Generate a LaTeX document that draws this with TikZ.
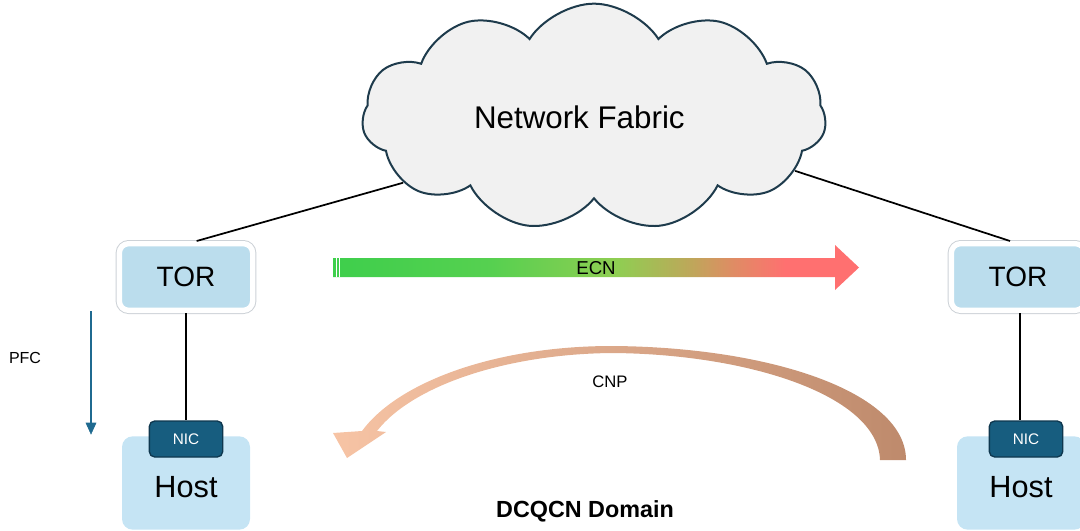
\documentclass[tikz,border=0pt]{standalone}
\usepackage{xcolor}
\usepackage{fontspec}
\setmainfont{Liberation Sans}
\definecolor{Cloud}{RGB}{241,241,241}
\definecolor{CloudLine}{RGB}{30,59,76}
\definecolor{Tor}{RGB}{187,221,237}
\definecolor{HostBlue}{RGB}{197,228,244}
\definecolor{Nic}{RGB}{23,93,127}
\definecolor{NicLine}{RGB}{14,55,78}
\definecolor{Pfc}{RGB}{31,106,144}
\definecolor{Halo}{RGB}{205,210,215}
\definecolor{EcnA}{RGB}{62,207,76}
\definecolor{EcnB}{RGB}{86,208,80}
\definecolor{EcnC}{RGB}{143,206,82}
\definecolor{EcnD}{RGB}{190,167,90}
\definecolor{EcnE}{RGB}{223,140,100}
\definecolor{EcnF}{RGB}{255,112,112}
\definecolor{CnpLeft}{RGB}{247,196,165}
\definecolor{CnpRight}{RGB}{190,138,108}
\usepackage{tikz}
\usetikzlibrary{shapes.symbols}
\pgfdeclarehorizontalshading{ecnshade}{100bp}{color(0bp)=(EcnA); color(25bp)=(EcnA); color(40bp)=(EcnB); color(52bp)=(EcnC); color(59bp)=(EcnD); color(63bp)=(EcnE); color(68bp)=(EcnF); color(100bp)=(EcnF)}

\begin{document}
\begin{tikzpicture}[x=0.75pt, y=-0.75pt,
		torbox/.style={fill=Tor, draw=white, line width=4pt, rounded corners=7pt, minimum width=100pt, minimum height=50pt, font=\fontsize{21}{24}\selectfont, preaction={draw=Halo, line width=5.5pt}},
		hostbox/.style={fill=HostBlue, rounded corners=8pt, minimum width=96pt, minimum height=70pt, text depth=0pt, font=\fontsize{23}{26}\selectfont},
		nicbox/.style={fill=Nic, draw=NicLine, line width=1pt, rounded corners=4pt, minimum width=55pt, minimum height=27pt, text=white, font=\fontsize{11.5}{13}\selectfont},
		link/.style={draw=black, line width=1.3pt}]
		
		\useasboundingbox (0,0) rectangle (1080,531);
		
		% Cloud
		\node[shape=cloud, cloud puffs=11, cloud puff arc=115, aspect=2.1, fill=Cloud, draw=CloudLine, line width=1.5pt, minimum width=348pt, minimum height=170pt, font=\fontsize{23.5}{27}\selectfont] (fabric) at (594,117) {Network Fabric\hspace*{22pt}};
		
		% Boxes
		\node[torbox] (ltor) at (186,277) {TOR};
		\node[torbox] (rtor) at (1018,277) {TOR};
		\node[hostbox] (lhost) at (186,483) {\raisebox{-6pt}{Host}};
		\node[hostbox] (rhost) at (1021,483) {\raisebox{-6pt}{Host}};
		\node[nicbox] (lnic) at (186,439) {NIC};
		\node[nicbox] (rnic) at (1026,439) {NIC};
		
		% Links
		\draw[link] (fabric.199) -- ([xshift=8pt]ltor.north);
		\draw[link] (fabric.-15) -- ([xshift=-6pt]rtor.north);
		\draw[link] (ltor.south) -- (lnic.north);
		\draw[link] ([xshift=1.5pt]rtor.south) -- ([xshift=-4.5pt]rnic.north);
		
		% PFC
		\coordinate (pfctop) at (91,311);
		\coordinate (pfcend) at (91,434);
		\draw[Pfc, line width=1.5pt] (pfctop) -- (91,424);
		\filldraw[Pfc] (86,423) -- (96,423) -- (pfcend) -- cycle;
		\node[font=\fontsize{12}{14}\selectfont] (pfc) at (25,358) {PFC};
		
		% ECN
		\shade[shading=ecnshade] (333,258) -- (835,258) -- (835,245) -- (859,267.5) -- (835,290) -- (835,277) -- (333,277) -- cycle;
		\draw[white, line width=0.6pt] (336,258) -- (336,277);
		\draw[white, line width=0.6pt] (339.5,258) -- (339.5,277);
		\node[font=\fontsize{14}{16}\selectfont] (ecn) at (596,268) {ECN};
		
		% CNP
		\shade[left color=CnpLeft, right color=CnpRight] (906,460) .. controls (906,392) and (770,347) .. (612,346) .. controls (495,346) and (398,382) .. (362,431) -- (333,433) -- (347,458) -- (386,432) -- (377,431) .. controls (412,386) and (505,354) .. (612,353) .. controls (750,354) and (878,396) .. (880,460) -- cycle;
		\node[font=\fontsize{12.5}{14}\selectfont] (cnp) at (610,382) {CNP};
		
		% Domain
		\node[font=\bfseries\fontsize{17.5}{20}\selectfont] (domain) at (585,511) {DCQCN Domain};
		
	\end{tikzpicture}
\end{document}
